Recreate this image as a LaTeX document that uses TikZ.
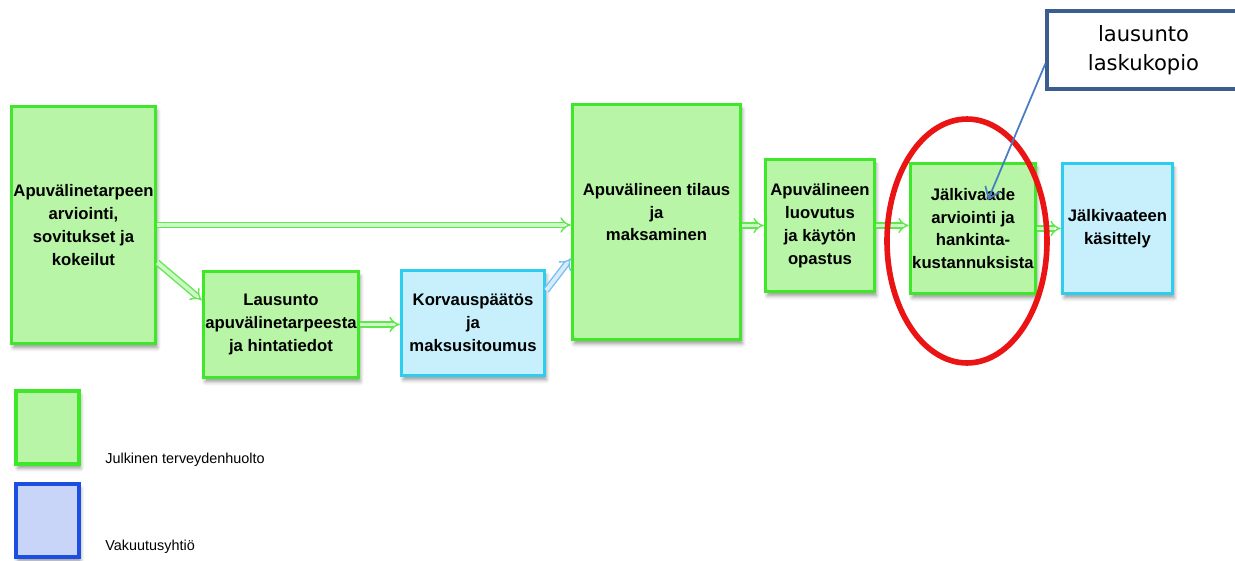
\documentclass[tikz,border=0pt]{standalone}
\usepackage{fontspec}
\setmainfont{Liberation Sans}
\newfontfamily\calloutfont{DejaVu Sans}
\usetikzlibrary{arrows.meta, shapes, shadows.blur}
\usepackage{xcolor}

\definecolor{boxgreen}{RGB}{62,232,40}
\definecolor{fillgreen}{RGB}{184,245,166}
\definecolor{boxcyan}{RGB}{45,205,240}
\definecolor{fillcyan}{RGB}{200,240,252}
\definecolor{legendblue}{RGB}{28,78,226}
\definecolor{filllav}{RGB}{200,212,248}
\definecolor{flowgreen}{RGB}{95,232,75}
\definecolor{flowblue}{RGB}{120,190,240}
\definecolor{noteblue}{RGB}{58,95,143}
\definecolor{pointerblue}{RGB}{74,124,196}
\definecolor{ringred}{RGB}{235,20,20}

\tikzset{
  stage/.style={draw=boxgreen, fill=fillgreen, line width=2pt, align=center, inner sep=1pt,
    font=\fontsize{9.5}{13}\selectfont\bfseries,
    blur shadow={shadow xshift=1pt, shadow yshift=-2.5pt, shadow opacity=40}},
  insurer/.style={stage, draw=boxcyan, fill=fillcyan},
  flowarrow/.style={draw=flowgreen, line width=0.8pt, double=white!70!flowgreen, double distance=2.2pt, -{Implies}},
  flowblue/.style={flowarrow, draw=flowblue, double=white!70!flowblue}
}

\begin{document}
\begin{tikzpicture}[x=0.02cm, y=-0.02cm]
		\useasboundingbox (0,0) rectangle (1235,561);

		% Process boxes
		\node[stage, minimum width=2.88cm, minimum height=4.74cm] (arvio) at (83.5,225) {Apuvälinetarpeen\\arviointi,\\sovitukset ja\\kokeilut};
		\node[stage, minimum width=3.1cm, minimum height=2.12cm] (lausunto) at (281,324.5) {Lausunto\\apuvälinetarpeesta\\ja hintatiedot};
		\node[insurer, minimum width=2.86cm, minimum height=2.1cm] (korvaus) at (473,323) {Korvauspäätös\\ja\\maksusitoumus};
		\node[stage, minimum width=3.36cm, minimum height=4.7cm, text depth=0.4cm] (tilaus) at (656.5,222) {Apuvälineen tilaus\\ja\\maksaminen};
		\node[stage, minimum width=2.18cm, minimum height=2.64cm] (luovutus) at (820,225.5) {Apuvälineen\\luovutus\\ja käytön\\opastus};
		\node[stage, minimum width=2.5cm, minimum height=2.6cm] (jalkiarvio) at (973,228.5) {Jälkivaade\\arviointi ja\\hankinta-\\kustannuksista};
		\node[insurer, minimum width=2.2cm, minimum height=2.6cm] (kasittely) at (1117.5,228.5) {Jälkivaateen\\käsittely};

		% Flow arrows
		\draw[flowarrow] (arvio.east) -- (arvio.east -| tilaus.west);
		\draw[flowarrow] (arvio.-27) -- (lausunto.163);
		\draw[flowarrow] (lausunto.east) -- (lausunto.east -| korvaus.west);
		\draw[flowblue] (korvaus.24) -- (tilaus.203);
		\draw[flowarrow] (luovutus.west -| tilaus.east) -- (luovutus.west);
		\draw[flowarrow] (luovutus.east) -- (luovutus.east -| jalkiarvio.west);
		\draw[flowarrow] (jalkiarvio.east) -- (jalkiarvio.east -| kasittely.west);

		% Highlight and note
		\draw[ringred, line width=3.2pt] (967,241) ellipse [x radius=1.6cm, y radius=2.44cm];
		\node[draw=noteblue, line width=2pt, fill=white, minimum width=3.86cm, minimum height=1.56cm, align=center,
			font=\calloutfont\fontsize{12}{16.5}\selectfont] (note) at (1143.5,50) {lausunto\\laskukopio};
		\coordinate (notetip) at (988,200);
		\draw[pointerblue, line width=1pt, -{Straight Barb[length=6pt, width=9pt]}] (note.188) -- (notetip);

		% Legend
		\node[stage, minimum width=1.26cm, minimum height=1.46cm] (keygreen) at (47.5,427.5) {};
		\node[stage, draw=legendblue, fill=filllav, minimum width=1.26cm, minimum height=1.46cm] (keyblue) at (47.5,520.5) {};
		\node[anchor=base west, font=\fontsize{8.2}{10}\selectfont, inner sep=0pt] (keygreentext) at (105,463) {Julkinen terveydenhuolto};
		\node[anchor=base west, font=\fontsize{8.2}{10}\selectfont, inner sep=0pt] (keybluetext) at (105,550) {Vakuutusyhtiö};
	\end{tikzpicture}
\end{document}
